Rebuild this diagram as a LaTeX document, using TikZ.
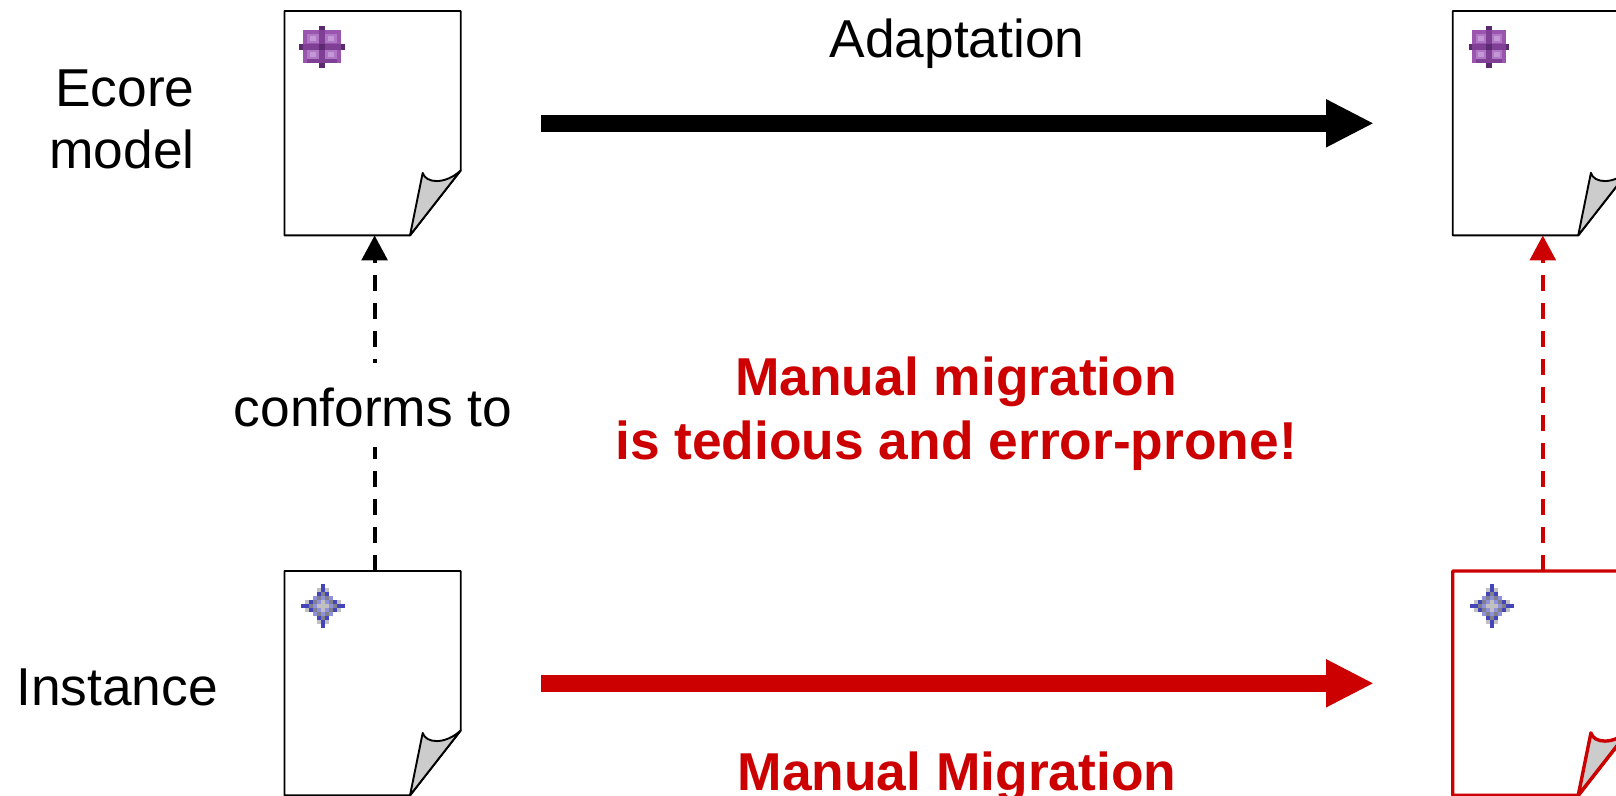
\documentclass[tikz,border=0pt]{standalone}
\usepackage{fontspec}
\setmainfont{Liberation Sans}
\usetikzlibrary{arrows.meta}
\definecolor{migred}{HTML}{CC0000}
\definecolor{foldgray}{HTML}{CCCCCC}
\definecolor{ecorebody}{HTML}{9A55AE}
\definecolor{ecorelight}{HTML}{B078C4}
\definecolor{ecorepale}{HTML}{C498D6}
\definecolor{ecoremid}{HTML}{7F3F94}
\definecolor{ecoredark}{HTML}{5C2A70}
\definecolor{instblue}{HTML}{4444BB}
\definecolor{instlilac}{HTML}{9090DD}
\definecolor{instgray}{HTML}{808088}
\definecolor{instlight}{HTML}{C0C0C0}
\tikzset{
  docbox/.style={minimum width=88.1pt,minimum height=112.2pt,inner sep=0pt,outer sep=0pt},
  bigarrow/.style={line width=8.3pt,-{Triangle[length=24pt,width=22.3pt]}},
  confline/.style={line width=2pt,dash pattern=on 8pt off 6pt,-{Triangle[length=12.5pt,width=12.8pt]}},
  caption/.style={font=\fontsize{26.67}{31}\selectfont,align=center,inner sep=0pt},
  redcaption/.style={font=\fontsize{26.67}{32}\selectfont\bfseries,text=migred,align=center,inner sep=0pt},
  pics/docpage/.style n args={2}{code={
    \draw [#1,line width=#2,fill=white,line join=round] (-88.1,-112.2) -- (88.1,-112.2) -- (88.1,47.3) -- (37.4,112.2) -- (-88.1,112.2) -- cycle;
    \draw [#1,line width=#2,fill=foldgray,line join=round] (37.4,112.2) -- (50.1,49.7) .. controls (53,60) and (72,62) .. (88.1,47.3) -- cycle;
  }},
  pics/ecoreicon/.style={code={
    \fill [ecorebody] (-19,-17) rectangle (19,16);
    \fill [ecoremid] (-15,12) rectangle (15,16);
    \foreach \x in {-15,3} \foreach \y in {-13,3} {
      \fill [ecorelight] (\x,\y) rectangle +(12,9);
      \fill [ecorepale] (\x+3,\y+2) rectangle +(6,5);
    }
    \fill [ecoremid] (-19,-3) rectangle (19,3);
    \fill [ecoremid] (-3,-17) rectangle (3,16);
    \fill [ecoredark] (-3,-21) rectangle (3,-17);
    \fill [ecoredark] (-3,16) rectangle (3,21);
    \fill [ecoredark] (-23,-3) rectangle (-19,3);
    \fill [ecoredark] (19,-3) rectangle (23,3);
    \fill [ecoredark] (-3,-3) rectangle (3,3);
  }},
  pics/insticon/.style={code={
    \foreach \i/\j/\c in {0/0/instlight,1/0/instlight,0/1/instlight,2/0/instlilac,0/2/instlilac,1/1/instlilac,2/2/instlilac,
      3/0/instgray,0/3/instgray,1/2/instgray,2/1/instgray,4/0/instblue,0/4/instblue,5/0/instblue,0/5/instblue,
      1/3/instblue,3/1/instblue,1/4/instlight,4/1/instlight}
      \foreach \sx in {-1,1} \foreach \sy in {-1,1}
        \fill [\c] ({\sx*\i*4-2},{\sy*\j*4-2}) rectangle +(4,4);
  }},
}
\begin{document}
\begin{tikzpicture}[x=0.5pt,y=-0.5pt]
    \clip (0,0) rectangle (1616,796);
    % pages
    \node (ecoreold) [docbox] at (372.6,123.2) {};
    \node (ecorenew) [docbox] at (1540.8,123.2) {};
    \node (instold) [docbox] at (372.6,683.2) {};
    \node (instnew) [docbox] at (1540.8,683.2) {};
    \pic at (ecoreold) {docpage={black}{0.95pt}};
    \pic at (ecorenew) {docpage={black}{0.95pt}};
    \pic at (instold) {docpage={black}{0.95pt}};
    \pic at (instnew) {docpage={migred}{1.7pt}};
    \pic at (321.5,47) {ecoreicon};
    \pic [xscale=0.89] at (1489,47) {ecoreicon};
    \pic at (323,605.5) {insticon};
    \pic at (1491.5,605.5) {insticon};
    % arrow ends
    \coordinate (adaptfrom) at (541,123.3);
    \coordinate (adaptto) at (1374,123.3);
    \coordinate (migfrom) at (541,683.3);
    \coordinate (migto) at (1374,683.3);
    \draw [bigarrow] (adaptfrom) -- (adaptto);
    \draw [bigarrow,migred] (migfrom) -- (migto);
    \draw [confline] ([xshift=1pt]instold.north) -- ([xshift=1pt]ecoreold.south);
    \draw [confline,migred] ([xshift=1pt]instnew.north) -- ([xshift=1pt]ecorenew.south);
    % labels
    \node (ecorelabel) [caption,align=right,anchor=east] at (195,119) {Ecore\\model};
    \node (instlabel) [caption] at (117,687) {Instance};
    \node (adaptlabel) [caption,anchor=base] at (957,58) {Adaptation};
    \node (conflabel) [caption,fill=white,minimum height=42pt,text height=21.5pt,text depth=0pt] at (373,405) {conforms to};
    \node (tediouslabel) [redcaption] at (956,414) {Manual migration\\is tedious and error-prone!};
    \node (miglabel) [redcaption,anchor=base] at (957,790) {Manual Migration};
\end{tikzpicture}
\end{document}
